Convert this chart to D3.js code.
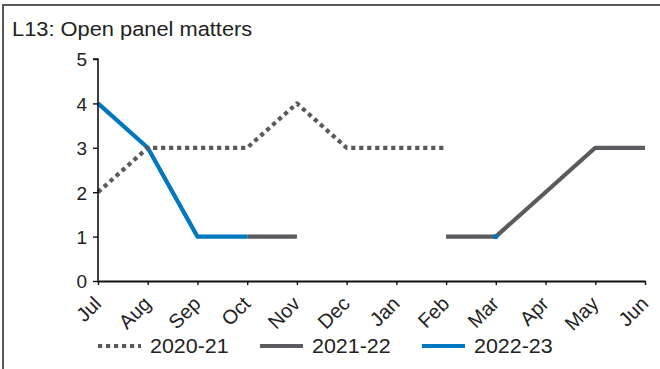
<!DOCTYPE html>
<html><head><meta charset="utf-8">
<script src="https://cdn.jsdelivr.net/npm/d3@7"></script>
<style>
body{margin:0;background:#fff;}
svg{display:block;font-family:"Liberation Sans",Arial,sans-serif;}
</style></head>
<body><svg id="c" width="660" height="369"></svg>
<script>
const months = ["Jul","Aug","Sep","Oct","Nov","Dec","Jan","Feb","Mar","Apr","May","Jun"];
const s2020 = [2,3,3,3,4,3,3,3,null,null,null,null];
const s2021 = [null,null,null,1,1,null,null,1,1,2,3,3];
const s2022 = [4,3,1,1,null,null,null,null,1,null,null,null];
const yTicks = [0,1,2,3,4,5];
const seriesNames = ["2020-21","2021-22","2022-23"];
const colors = {"2020-21":"#5a5a5c","2021-22":"#5a5b5e","2022-23":"#0077c0"};
const FONT = "Liberation Sans, Arial, sans-serif";

const svg = d3.select("#c");
// frame
svg.append("rect").attr("x",3).attr("y",5).attr("width",700).attr("height",400)
  .attr("fill","none").attr("stroke","#595959").attr("stroke-width",2);

svg.append("text").attr("transform","translate(12,36) scale(1.12,1)").attr("font-size",19.5).attr("fill","#222")
  .text("L13: Open panel matters");

const x = d3.scalePoint().domain(months).range([98,645]);
const y = d3.scaleLinear().domain([0,5]).range([281,59]);

const draw = (name, vals, dashed) => {
  const data = months.map((m,i)=>({m, v:vals[i]}));
  const line = d3.line().defined(d=>d.v!=null).x(d=>x(d.m)).y(d=>y(d.v));
  const p = svg.append("path").datum(data).attr("d",line).attr("fill","none")
    .attr("stroke",colors[name]).attr("stroke-width",4.2).attr("stroke-linejoin","round");
  if(dashed) p.attr("stroke-dasharray","4.2,3.8");
  data.forEach((d,i)=>{
    if(d.v!=null && (i===0||data[i-1].v==null) && (i===data.length-1||data[i+1].v==null)){
      svg.append("circle").attr("cx",x(d.m)).attr("cy",y(d.v)).attr("r",2.6).attr("fill",colors[name]);
    }
  });
};
draw("2021-22", s2021, false);
draw("2022-23", s2022, false);
draw("2020-21", s2020, true);

// axes
const yAxis = d3.axisLeft(y).tickValues(yTicks).tickSize(5).tickPadding(6).tickFormat(d3.format("d"));
const gy = svg.append("g").attr("transform","translate(98,0)").call(yAxis);
gy.select(".domain").attr("stroke","#111").attr("stroke-width",1.6).attr("d","M-5,59H0V281");
gy.selectAll(".tick line").attr("stroke","#111").attr("stroke-width",1.4);
gy.selectAll(".tick text").attr("font-size",19).attr("fill","#222").attr("font-family",FONT)
  .attr("dy","0.36em");

const xAxis = d3.axisBottom(x).tickSize(4).tickSizeOuter(0);
const gx = svg.append("g").attr("transform","translate(0,281)").call(xAxis);
gx.select(".domain").attr("stroke","#111").attr("stroke-width",1.8);
gx.selectAll(".tick line").attr("stroke","#111").attr("stroke-width",1.4);
gx.selectAll(".tick text").attr("font-size",20).attr("fill","#222")
  .attr("font-family",FONT)
  .attr("text-anchor","end").attr("dy",0).attr("y",0)
  .attr("transform","translate(4,24) rotate(-45)");

// legend
const leg = [{n:"2020-21",x0:98,dash:true},{n:"2021-22",x0:260},{n:"2022-23",x0:422}];
leg.forEach(l=>{
  const ln = svg.append("line").attr("x1",l.x0).attr("x2",l.x0+43).attr("y1",346).attr("y2",346)
    .attr("stroke",colors[l.n]).attr("stroke-width",4.2);
  if(l.dash) ln.attr("stroke-dasharray","4.2,3.8");
  svg.append("text").attr("transform",`translate(${l.x0+52},353) scale(1.1,1)`)
    .attr("font-size",19.5).attr("fill","#222").text(l.n);
});
</script></body></html>
